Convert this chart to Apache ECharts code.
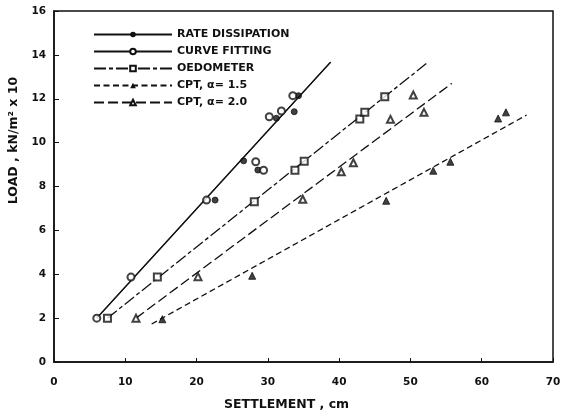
<!DOCTYPE html>
<html>
<head>
<meta charset="utf-8">
<script src="https://cdn.jsdelivr.net/npm/echarts@6/dist/echarts.min.js"></script>
<style>
  html, body { margin: 0; padding: 0; background: #fff; }
  #chart { width: 582px; height: 415px; }
</style>
</head>
<body>
<div id="chart"></div>
<script>
// Load (kN/m² x 10) against settlement (cm) for each method
const rateDissipation = [[22.6, 7.38], [26.6, 9.17], [28.6, 8.75], [31.2, 11.11], [33.7, 11.41], [34.3, 12.14]];
const curveFitting = [[6.0, 2.0], [10.8, 3.87], [21.4, 7.38], [28.3, 9.13], [29.4, 8.74], [30.2, 11.18], [31.9, 11.44], [33.5, 12.14]];
const oedometer = [[7.5, 2.0], [14.5, 3.87], [28.1, 7.3], [33.8, 8.74], [35.1, 9.15], [42.9, 11.08], [43.6, 11.39], [46.4, 12.09]];
const cptAlpha15 = [[15.2, 1.95], [27.8, 3.93], [46.6, 7.35], [53.2, 8.72], [55.6, 9.13], [62.3, 11.1], [63.4, 11.38]];
const cptAlpha20 = [[11.5, 2.0], [20.2, 3.89], [34.9, 7.42], [40.3, 8.67], [42.0, 9.08], [47.2, 11.06], [50.4, 12.17], [51.9, 11.38]];

// Fitted straight lines, start and end points
const fieldFitLine = [[6.0, 2.0], [38.8, 13.67]];
const oedometerFitLine = [[7.5, 2.0], [52.4, 13.65]];
const cptAlpha20FitLine = [[11.5, 2.0], [55.8, 12.7]];
const cptAlpha15FitLine = [[13.7, 1.73], [66.3, 11.26]];

// Legend names and axis ranges
const seriesNames = ['RATE DISSIPATION', 'CURVE FITTING', 'OEDOMETER', 'CPT, α= 1.5', 'CPT, α= 2.0'];
const settlementRange = { min: 0, max: 70, interval: 10 };
const loadRange = { min: 0, max: 16, interval: 2 };

const ink = '#111';
const font = 'DejaVu Sans';

function fitLine(name, data, dash, symbol) {
  return {
    name, type: 'line', data, symbol, symbolSize: 6, showSymbol: false, silent: true,
    lineStyle: { color: ink, width: 1.3, type: dash },
    itemStyle: { color: ink },
    z: 2
  };
}
function points(name, data, symbol, size) {
  return {
    name, type: 'scatter', data, symbol, symbolSize: size,
    itemStyle: { color: ink, borderColor: ink, borderWidth: 1 },
    z: 3
  };
}

const chart = echarts.init(document.getElementById('chart'), null, { renderer: 'canvas' });
chart.setOption({
  animation: false,
  backgroundColor: '#fff',
  grid: {
    left: 54, right: 29, top: 11, bottom: 53,
    show: true, borderColor: ink, borderWidth: 1.5,
    outerBoundsMode: 'none'
  },
  legend: {
    orient: 'vertical', left: 93, top: 29, padding: 0,
    itemWidth: 78, itemHeight: 7, itemGap: 6,
    selectedMode: false,
    data: seriesNames,
    textStyle: { color: ink, fontSize: 11, fontWeight: 'bold', fontFamily: font }
  },
  xAxis: {
    type: 'value', ...settlementRange,
    name: 'SETTLEMENT , cm', nameLocation: 'middle', nameGap: 36,
    nameTextStyle: { color: ink, fontSize: 12.5, fontWeight: 'bold', fontFamily: font, padding: [0, 34, 0, 0] },
    axisLine: { show: true, onZero: false, lineStyle: { color: ink, width: 1.5 } },
    axisTick: { show: true, inside: true, length: 4, lineStyle: { color: ink, width: 1 } },
    axisLabel: { color: ink, fontSize: 10.5, fontWeight: 'bold', fontFamily: font, margin: 15 },
    splitLine: { show: false }
  },
  yAxis: {
    type: 'value', ...loadRange,
    name: 'LOAD , kN/m² x 10', nameLocation: 'middle', nameGap: 30,
    nameTextStyle: { color: ink, fontSize: 12.5, fontWeight: 'bold', fontFamily: font, padding: [0, 0, 0, 92] },
    axisLine: { show: true, onZero: false, lineStyle: { color: ink, width: 1.5 } },
    axisTick: { show: true, inside: true, length: 5, lineStyle: { color: ink, width: 1 } },
    axisLabel: { color: ink, fontSize: 10.5, fontWeight: 'bold', fontFamily: font, margin: 8 },
    splitLine: { show: false }
  },
  series: [
    fitLine(seriesNames[0], fieldFitLine, 'solid', 'circle'),
    fitLine(seriesNames[1], fieldFitLine, 'solid', 'emptyCircle'),
    fitLine(seriesNames[2], oedometerFitLine, [12, 3, 4, 3], 'emptyRect'),
    fitLine(seriesNames[3], cptAlpha15FitLine, [6, 3.5], 'triangle'),
    fitLine(seriesNames[4], cptAlpha20FitLine, [10, 4], 'emptyTriangle'),
    points(seriesNames[0], rateDissipation, 'circle', 6),
    points(seriesNames[1], curveFitting, 'emptyCircle', 7),
    points(seriesNames[2], oedometer, 'emptyRect', 7),
    points(seriesNames[3], cptAlpha15, 'triangle', 7),
    points(seriesNames[4], cptAlpha20, 'emptyTriangle', 7)
  ]
});
</script>
</body>
</html>
